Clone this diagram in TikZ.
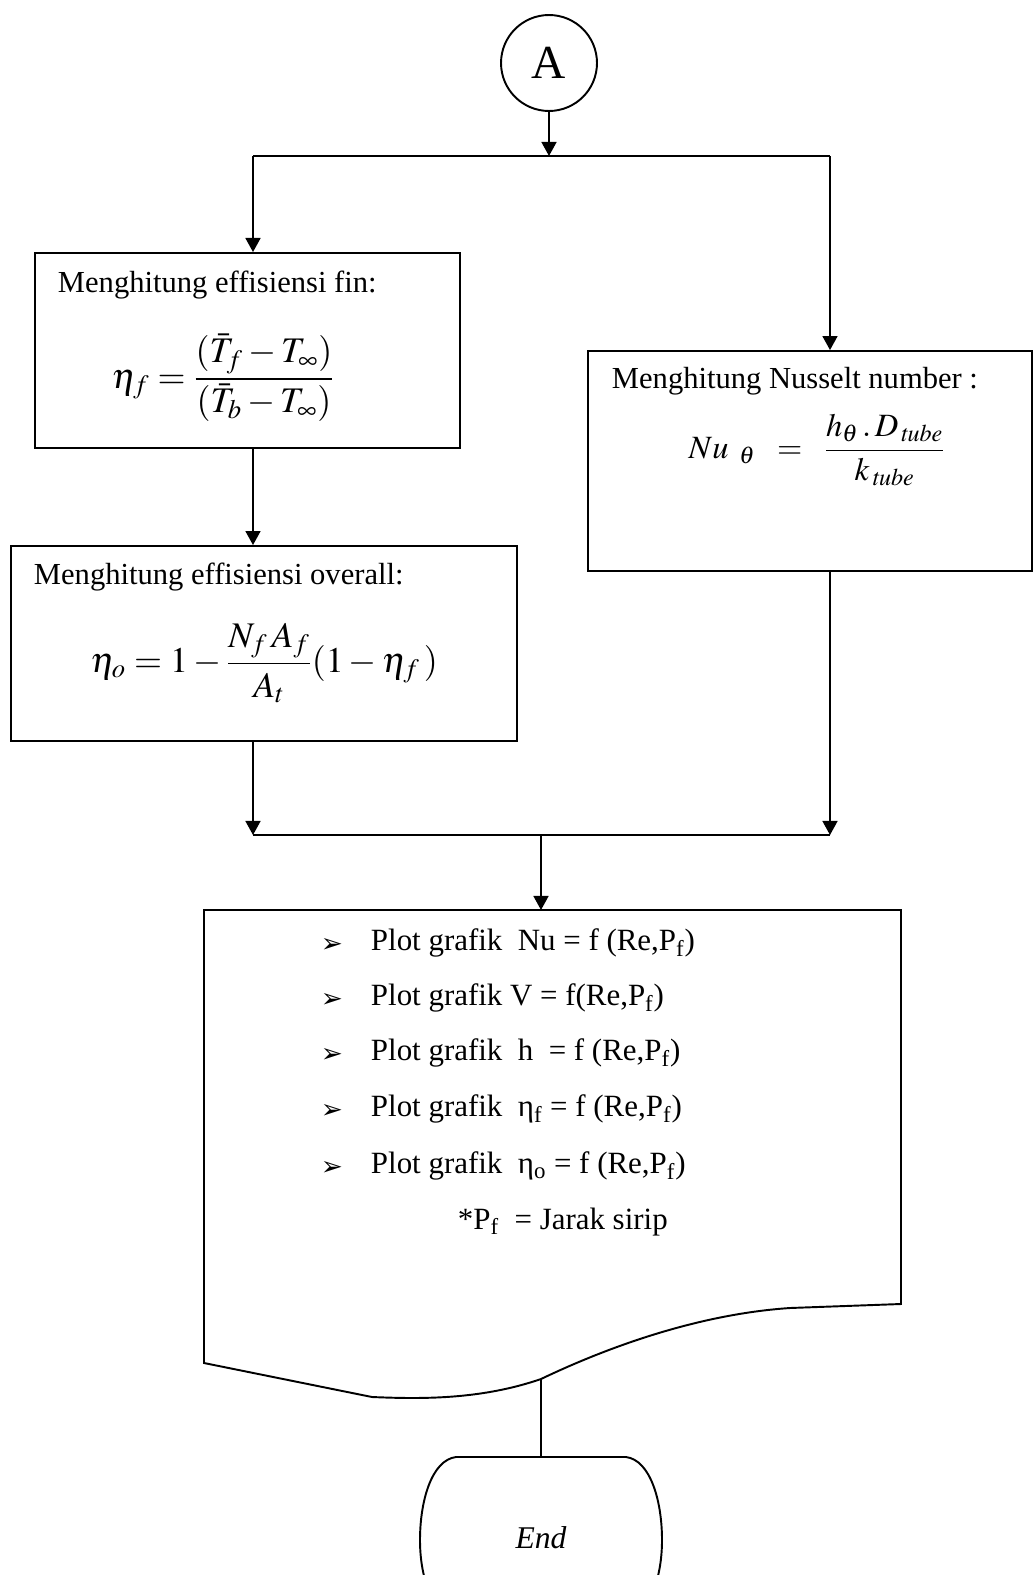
\documentclass[tikz,border=0pt]{standalone}
\usepackage{amsmath}
\usepackage{mathptmx}
\usepackage{fontspec}
\setmainfont{Liberation Serif}
\newfontfamily\symfont{DejaVu Sans}
\usetikzlibrary{arrows.meta,positioning,calc}

\begin{document}
\begin{tikzpicture}[
  x=0.02cm, y=-0.02cm,
  font=\fontsize{17.4}{21}\selectfont,
  >={Triangle[length=8pt,width=8.5pt]},
  line width=1.1pt,
  procbox/.style={draw, inner sep=0pt, minimum height=3.9cm},
  titletxt/.style={anchor=west, inner sep=0pt},
  eqtxt/.style={inner sep=0pt, font=\fontsize{20.5}{24}\selectfont},
  itemtxt/.style={anchor=west, inner sep=0pt, font=\fontsize{17.6}{21}\selectfont},
  bullet/.style={inner sep=0pt, font=\symfont\fontsize{15}{17}\selectfont},
  arr/.style={->}
]
\useasboundingbox (0,0) rectangle (1034,1575);

% connector A
\node[draw, circle, minimum size=1.92cm, inner sep=0pt, font=\fontsize{27}{30}\selectfont] (conA) at (549,63) {A};

% split into two branches
\coordinate (split) at (549,156);
\coordinate (splitL) at (253,156);
\coordinate (splitR) at (830,156);

\node[procbox, minimum width=8.5cm] (fin) at (247.5,350.5) {};
\node[titletxt] (fintxt) at (57,285) {Menghitung effisiensi fin:};
\node[eqtxt] (fineq) at (223,378) {$\eta_f =\dfrac{(\bar{T}_f - T_\infty)}{(\bar{T}_b - T_\infty)}$};

\node[procbox, minimum width=10.12cm] (overall) at (264,643.5) {};
\node[titletxt] (overalltxt) at (33,577) {Menghitung effisiensi overall:};
\node[eqtxt] (overalleq) at (264,663) {$\eta_o = 1 - \dfrac{N_f\,A_f}{A_t}(1-\eta_f\,)$};

\node[procbox, minimum width=8.88cm, minimum height=4.4cm] (nusselt) at (810,461) {};
\node[titletxt] (nusselttxt) at (611,381) {Menghitung Nusselt number :};
\node[eqtxt, font=\fontsize{18.5}{22}\selectfont] (nusselteq) at (817,450) {$Nu_{\;\;\theta}\;\;=\;\;\dfrac{\boldsymbol{h}_\theta\,.\,D_{\,\mathit{tube}}}{\boldsymbol{k}_{\,\mathit{tube}}}$};

\draw[arr] (conA) -- (split);
\draw (splitL) -- (splitR);
\draw[arr] (splitL) -- (splitL |- fin.north);
\draw[arr] (splitR) -- (splitR |- nusselt.north);
\draw[arr] (fin.south -| splitL) -- (overall.north -| splitL);

% merge
\coordinate (mergeL) at (253,835);
\coordinate (mergeR) at (830,835);
\coordinate (merge) at (541,835);
\draw[arr] (overall.south -| mergeL) -- (mergeL);
\draw[arr] (nusselt.south -| mergeR) -- (mergeR);
\draw (mergeL) -- (mergeR);

% document box
\coordinate (doctop) at (541,910);
\coordinate (docbot) at (541,1379);
\draw (204,910) -- (901,910) -- (901,1304) -- (790,1308)
  .. controls (700,1314) and (610,1346) .. (docbot)
  .. controls (480,1400) and (420,1399) .. (372,1397) -- (204,1363) -- cycle;
\draw[arr] (merge) -- (doctop);

\node[bullet] (b1) at (332,945) {➢};
\node[bullet] (b2) at (332,1000) {➢};
\node[bullet] (b3) at (332,1055) {➢};
\node[bullet] (b4) at (332,1111) {➢};
\node[bullet] (b5) at (332,1168) {➢};
\node[itemtxt] (p1) at (370,943) {Plot grafik\ \ Nu = f (Re,P\textsubscript{f})};
\node[itemtxt] (p2) at (370,998) {Plot grafik V = f(Re,P\textsubscript{f})};
\node[itemtxt] (p3) at (370,1053) {Plot grafik\ \ h\ \ = f (Re,P\textsubscript{f})};
\node[itemtxt] (p4) at (370,1109) {Plot grafik\ \ η\textsubscript{f} = f (Re,P\textsubscript{f})};
\node[itemtxt] (p5) at (370,1166) {Plot grafik\ \ η\textsubscript{o} = f (Re,P\textsubscript{f})};
\node[itemtxt] (pnote) at (457,1222) {*P\textsubscript{f}\ \ = Jarak sirip};

% terminator
\node[inner sep=0pt, minimum width=4.8cm, minimum height=3.24cm, font=\fontsize{18}{21}\selectfont\itshape] (endterm) at (541,1538) {End};
\draw (456,1457) -- (626,1457)
  .. controls (650,1460) and (662,1500) .. (662,1540)
  .. controls (662,1578) and (650,1612) .. (626,1619) -- (456,1619)
  .. controls (432,1612) and (420,1578) .. (420,1540)
  .. controls (420,1500) and (432,1460) .. cycle;
\draw (docbot) -- (endterm.north);
\end{tikzpicture}
\end{document}
